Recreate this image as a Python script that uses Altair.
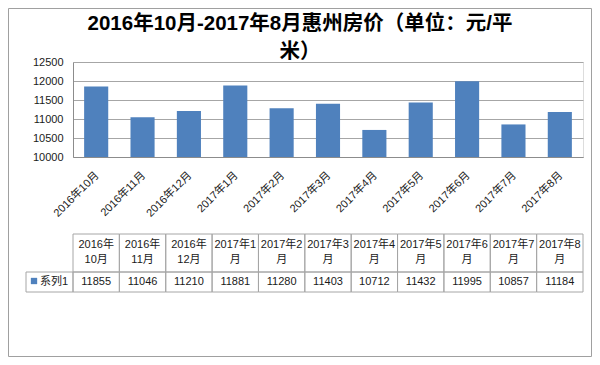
import altair as alt
import pandas as pd

months = ["2016年10月", "2016年11月", "2016年12月", "2017年1月", "2017年2月", "2017年3月",
          "2017年4月", "2017年5月", "2017年6月", "2017年7月", "2017年8月"]
prices = [11855, 11046, 11210, 11881, 11280, 11403, 10712, 11432, 11995, 10857, 11184]
header_top = ["2016年", "2016年", "2016年", "2017年1", "2017年2", "2017年3",
              "2017年4", "2017年5", "2017年6", "2017年7", "2017年8"]
header_bottom = ["10月", "11月", "12月", "月", "月", "月", "月", "月", "月", "月", "月"]
series_name = "系列1"
y_ticks = [10000, 10500, 11000, 11500, 12000, 12500]
title_lines = ["2016年10月-2017年8月惠州房价（单位：元/平", "米）"]

df = pd.DataFrame({"month": months, "price": prices, "h1": header_top, "h2": header_bottom})

FONT = "Liberation Sans, Noto Sans CJK SC"
BLUE = "#4f81bd"
GRID = "#a6a6a6"
TXT = "#1a1a1a"

xenc = alt.X("month:N", sort=months, title=None,
             scale=alt.Scale(paddingInner=0, paddingOuter=0),
             axis=alt.Axis(labelAngle=-45, ticks=False, domainColor="#8c8c8c",
                           labelFont=FONT, labelFontSize=11, labelColor=TXT,
                           labelPadding=12, labelOffset=-3))

base = alt.Chart(df)

bars = base.mark_bar(width=alt.RelativeBandSize(0.52), color=BLUE).encode(
    x=xenc,
    y=alt.Y("price:Q", title=None,
            scale=alt.Scale(domain=[10000, 12500], zero=False, nice=False, clamp=True),
            axis=alt.Axis(values=y_ticks, format="d", grid=True, gridColor=GRID, ticks=False,
                          domainColor="#8c8c8c", labelFont=FONT, labelFontSize=11,
                          labelColor=TXT, labelPadding=10)),
)

head_cells = base.mark_rect(fill="transparent", stroke=GRID, strokeWidth=1).encode(
    x=alt.X("month:N", sort=months), y=alt.value(172), y2=alt.value(210))
val_cells = base.mark_rect(fill="transparent", stroke=GRID, strokeWidth=1).encode(
    x=alt.X("month:N", sort=months), y=alt.value(210), y2=alt.value(230))

head1 = base.mark_text(font=FONT, fontSize=11, color=TXT).encode(
    x=alt.X("month:N", sort=months), y=alt.value(183), text="h1:N")
head2 = base.mark_text(font=FONT, fontSize=11, color=TXT).encode(
    x=alt.X("month:N", sort=months), y=alt.value(198), text="h2:N")
vals = base.mark_text(font=FONT, fontSize=11, color=TXT).encode(
    x=alt.X("month:N", sort=months), y=alt.value(220), text="price:Q")

leg_data = alt.Data(values=[{"s": series_name}])
leg_cell = alt.Chart(leg_data).mark_rect(fill="transparent", stroke=GRID).encode(
    x=alt.value(-47), x2=alt.value(0), y=alt.value(210), y2=alt.value(230))
leg_sq = alt.Chart(leg_data).mark_square(size=40, color=BLUE, opacity=1).encode(
    x=alt.value(-39), y=alt.value(219))
leg_txt = alt.Chart(leg_data).mark_text(font=FONT, fontSize=11, color=TXT, align="left").encode(
    x=alt.value(-33), y=alt.value(220), text="s:N")

border = alt.Chart(leg_data).mark_rect(fill="transparent", stroke="#a0a0a0", strokeWidth=1).encode(
    x=alt.value(-64.5), x2=alt.value(518.5), y=alt.value(-53.5), y2=alt.value(294.5))

chart = alt.layer(border, bars, head_cells, val_cells, head1, head2, vals,
                  leg_cell, leg_sq, leg_txt).properties(
    width=510, height=95,
    autosize=alt.AutoSizeParams(type="none"),
    padding={"left": 65, "top": 54, "right": 9, "bottom": 200},
    title=alt.TitleParams(text=title_lines, font=FONT, fontSize=20.5, fontWeight="bold",
                          color="#000000", anchor="middle", frame="group", dx=-28,
                          offset=-54.5, lineHeight=28),
).configure_view(stroke=None).configure(background="white")

chart.save("out.html", embed_options={"renderer": "svg", "actions": False})
